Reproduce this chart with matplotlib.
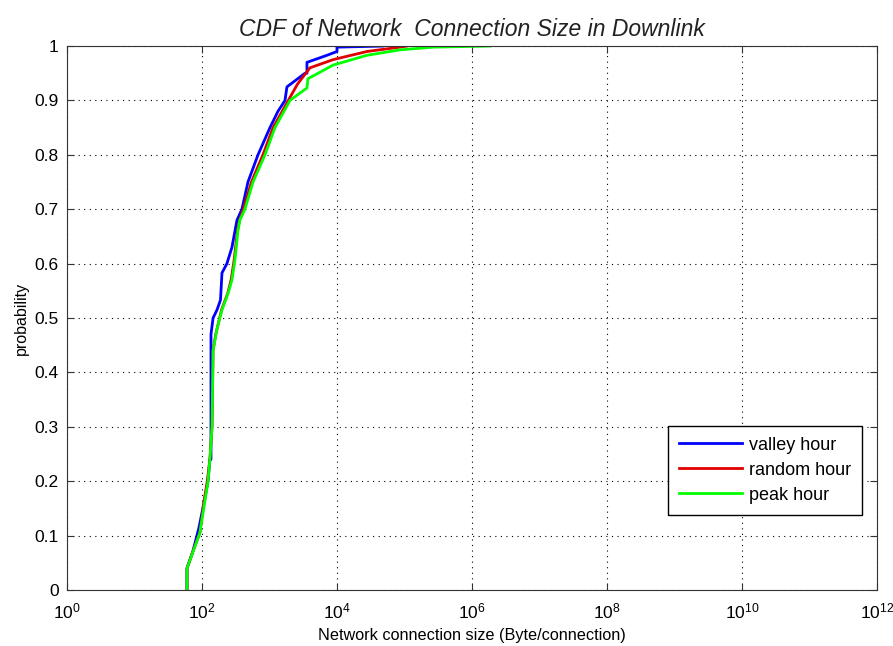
import matplotlib
matplotlib.use('agg')
import matplotlib.pyplot as plt

plt.rcParams['font.family'] = ['Liberation Sans', 'DejaVu Sans']
plt.rcParams['mathtext.fontset'] = 'custom'
plt.rcParams['mathtext.rm'] = 'Liberation Sans'
plt.rcParams['mathtext.it'] = 'Liberation Sans:italic'
plt.rcParams['mathtext.bf'] = 'Liberation Sans:bold'

# CDF (connection size in bytes, cumulative probability)
valley_x = [60, 60, 73, 90, 111, 123, 131, 136, 136, 146, 167, 188, 198, 234, 278, 330,
            391, 480, 676, 1017, 1336, 1698, 1816, 3357, 3593, 3593, 7110, 10000, 10000, 48000]
valley_y = [0, 0.04, 0.07, 0.114, 0.17, 0.2, 0.24, 0.24, 0.47, 0.5, 0.515, 0.533, 0.583, 0.6,
            0.63, 0.68, 0.7, 0.75, 0.8, 0.85, 0.88, 0.9, 0.925, 0.95, 0.95, 0.97, 0.983, 0.99,
            0.998, 1.0]

random_x = [60, 60, 73, 93, 108, 120, 131, 141, 146, 160, 195, 240, 270, 300, 335, 360,
            410, 540, 800, 1130, 1900, 2600, 3981, 8750, 27800, 85700, 109000]
random_y = [0, 0.04, 0.07, 0.105, 0.165, 0.2, 0.24, 0.3, 0.44, 0.47, 0.515, 0.545, 0.57,
            0.607, 0.66, 0.68, 0.7, 0.75, 0.8, 0.85, 0.9, 0.93, 0.96, 0.975, 0.99, 0.998, 1.0]

peak_x = [60, 60, 73.6, 93, 111, 123, 131, 141, 146, 167, 198, 243, 278, 308, 341, 365,
          433, 570, 858, 1206, 2013, 3593, 3720, 8750, 27800, 85700, 264000, 1850000]
peak_y = [0, 0.04, 0.07, 0.105, 0.165, 0.2, 0.24, 0.3, 0.44, 0.48, 0.515, 0.545, 0.57,
          0.607, 0.66, 0.68, 0.7, 0.75, 0.8, 0.85, 0.9, 0.923, 0.94, 0.965, 0.983, 0.993,
          0.998, 1.0]

x_ticks = [1e0, 1e2, 1e4, 1e6, 1e8, 1e10, 1e12]
x_ticklabels = [r'$\mathregular{10^{%d}}$' % p for p in [0, 2, 4, 6, 8, 10, 12]]
y_ticks = [0, 0.1, 0.2, 0.3, 0.4, 0.5, 0.6, 0.7, 0.8, 0.9, 1]
y_ticklabels = ['0', '0.1', '0.2', '0.3', '0.4', '0.5', '0.6', '0.7', '0.8', '0.9', '1']

fig = plt.figure(figsize=(8.93, 6.46), dpi=100)
ax = fig.add_axes([0.075, 0.0867, 0.907, 0.842])

ax.plot(valley_x, valley_y, color='#0000ff', lw=2, label='valley hour')
ax.plot(random_x, random_y, color='#e00000', lw=2, label='random hour')
ax.plot(peak_x, peak_y, color='#00ff00', lw=2, label='peak hour')

ax.set_xscale('log')
ax.set_xlim(1, 1e12)
ax.set_ylim(0, 1)
ax.set_xticks(x_ticks)
ax.set_xticklabels(x_ticklabels)
ax.minorticks_off()
ax.set_yticks(y_ticks)
ax.set_yticklabels(y_ticklabels)
ax.tick_params(direction='in', top=True, right=True, labelsize=12.5, length=5,
               color='#333333')
ax.tick_params(axis='x', pad=8)
ax.tick_params(axis='y', pad=6)
for s in ax.spines.values():
    s.set_color('#333333')
ax.grid(True, color='black', linestyle=(0, (1, 4)), linewidth=0.8)

ax.set_title('CDF of Network  Connection Size in Downlink', fontsize=16.5,
             style='italic', pad=7, color='#222222')
ax.set_xlabel('Network connection size (Byte/connection)', fontsize=11.7, labelpad=5)
ax.set_ylabel('probability', fontsize=11.5, labelpad=4)

leg = ax.legend(loc='upper right', bbox_to_anchor=(0.981, 0.302), fontsize=13,
                fancybox=False, edgecolor='black', framealpha=1,
                handlelength=3.5, handletextpad=0.35, borderpad=0.6,
                labelspacing=0.45, borderaxespad=0)
leg.get_frame().set_linewidth(1.0)

plt.savefig('out.png', dpi=100)
